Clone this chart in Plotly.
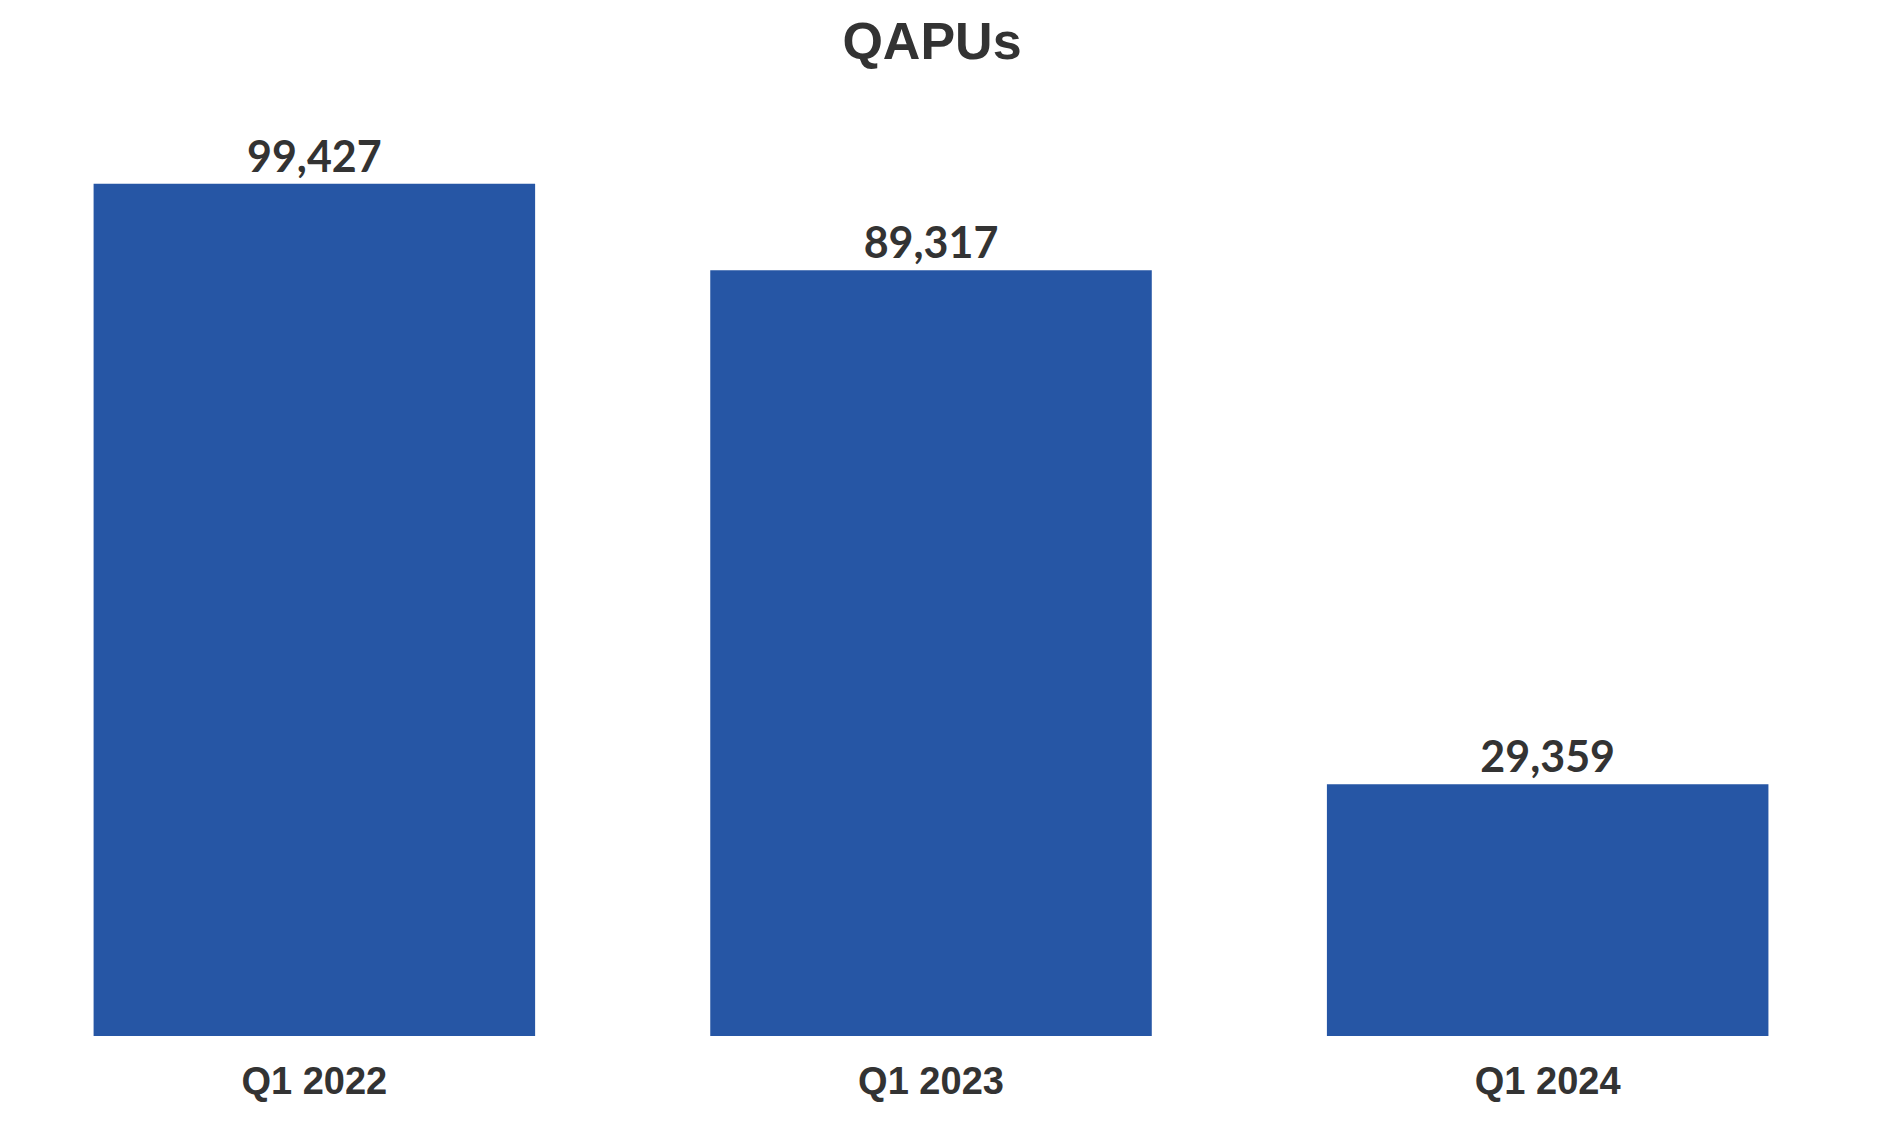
import plotly.graph_objects as go

categories = ["Q1 2022", "Q1 2023", "Q1 2024"]
values = [99427, 89317, 29359]
value_labels = ["99,427", "89,317", "29,359"]

fig = go.Figure(go.Bar(
    x=categories, y=values, text=value_labels,
    textposition="outside", cliponaxis=False,
    marker=dict(color="#2656a5", line=dict(width=0)),
    textfont=dict(family="Lato", size=43, color="#333333", weight="bold"),
))

fig.update_layout(
    width=1880, height=1137,
    paper_bgcolor="white", plot_bgcolor="white",
    margin=dict(l=0, r=32, t=85, b=109),
    bargap=0.284,
    showlegend=False,
    title=dict(text="<b>QAPUs</b>", x=0.5, xref="paper", xanchor="center", y=0.971, yanchor="middle",
               font=dict(family="Liberation Sans", size=52, color="#333333")),
    xaxis=dict(showgrid=False, zeroline=False, showline=False, automargin=False,
               range=[-0.4968, 2.5],
               tickfont=dict(family="Liberation Sans", size=38, color="#333333", weight="bold"),
               ticks="outside", ticklen=11, tickcolor="rgba(0,0,0,0)"),
    yaxis=dict(range=[0, 110000], visible=False, automargin=False),
)

fig.write_html("out.html")
